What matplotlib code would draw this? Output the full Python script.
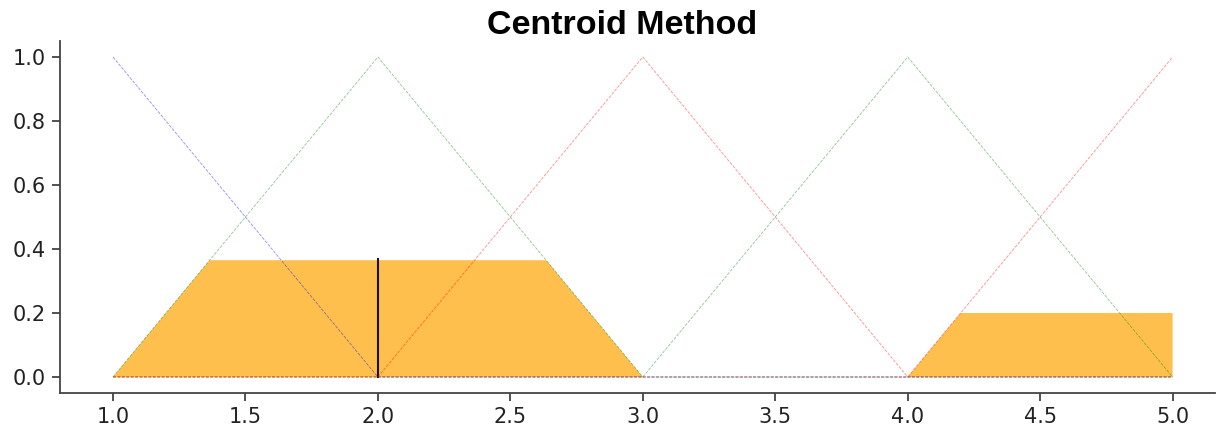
import matplotlib
matplotlib.use("Agg")
import matplotlib.pyplot as plt
import numpy as np

# Universe and membership triangles (a, b, c)
x_range = [1.0, 5.0]
mf_abc = [
    [1.0, 1.0, 2.0],
    [1.0, 2.0, 3.0],
    [2.0, 3.0, 4.0],
    [3.0, 4.0, 5.0],
    [4.0, 5.0, 5.0],
]
mf_colors = ['b', 'g', 'r', 'g', 'r']
# activation (clip) level for each set
activation = [0.0, 0.365, 0.0, 0.0, 0.2]
centroid_x = 2.0
centroid_h = 0.37
title = "Centroid Method"

x = np.linspace(x_range[0], x_range[1], 4001)

def trimf(x, abc):
    a, b, c = abc
    y = np.zeros_like(x)
    if b > a:
        m = (x >= a) & (x <= b)
        y[m] = (x[m] - a) / (b - a)
    else:
        y[x == a] = 1.0
    if c > b:
        m = (x >= b) & (x <= c)
        y[m] = np.maximum(y[m], (c - x[m]) / (c - b))
    else:
        y[x == c] = 1.0
    y[x == b] = 1.0
    return y

mfs = [trimf(x, abc) for abc in mf_abc]
agg = np.zeros_like(x)
for mf, act in zip(mfs, activation):
    agg = np.maximum(agg, np.minimum(mf, act))

fig = plt.figure(figsize=(12.24, 4.32), dpi=100)
ax = fig.add_axes([60/1224, 1-393/432, (1215-60)/1224, (393-41)/432])

ax.fill_between(x, np.zeros_like(x), agg, facecolor='orange', alpha=0.7)
ax.plot([centroid_x, centroid_x], [0, centroid_h], 'k', linewidth=1.5, alpha=0.9)
for abc, col in zip(mf_abc, mf_colors):
    ax.plot(x, trimf(x, abc), col, linewidth=0.6, linestyle='--', alpha=0.45)

ax.set_xlim(0.8, 5.16)
ax.set_ylim(-0.05, 1.05)
ax.set_xticks([1.0, 1.5, 2.0, 2.5, 3.0, 3.5, 4.0, 4.5, 5.0])
ax.set_yticks([0.0, 0.2, 0.4, 0.6, 0.8, 1.0])
ax.tick_params(labelsize=15, colors='#333333', width=1.2, length=6, pad=4)
ax.tick_params(labelcolor='#222222')
for s in ['top', 'right']:
    ax.spines[s].set_visible(False)
for s in ['left', 'bottom']:
    ax.spines[s].set_linewidth(1.3)
    ax.spines[s].set_color('#444444')
ax.set_title(title, fontsize=24.5, fontweight='bold', family='Liberation Sans',
             pad=3, x=(622-60)/1155)

fig.savefig("out.png", dpi=100)
